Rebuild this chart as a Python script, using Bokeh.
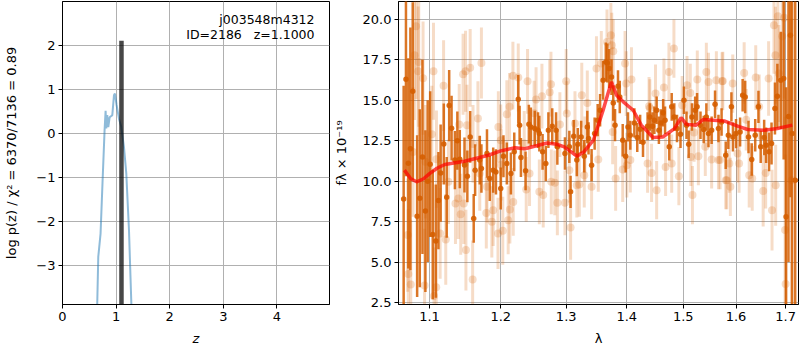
import numpy as np
from bokeh.plotting import figure
from bokeh.layouts import row
from bokeh.models import FixedTicker, PrintfTickFormatter, Label, Range1d
from bokeh.embed import file_html
from bokeh.resources import INLINE

# ---------------- left panel: log p(z) ----------------
pz_z = [0.640, 0.648, 0.667, 0.710, 0.748, 0.785, 0.804, 0.816, 0.835, 0.854, 0.879,
        0.910, 0.929, 0.960, 0.978, 1.009, 1.053, 1.097, 1.146, 1.190, 1.240, 1.284, 1.295]
pz_logp = [-4.5, -3.87, -2.81, -2.28, -1.07, 0.07, 0.51, 0.11, 0.41, 0.14, 0.36,
           0.39, 0.41, 0.86, 0.90, 0.64, 0.33, 0.14, -0.31, -0.92, -2.20, -3.87, -4.5]
z_best = [1.1]
z_best_top = [2.1]
z_ticks = [0, 1, 2, 3, 4]
logp_ticks = [-3, -2, -1, 0, 1, 2]
root_name = "j003548m4312"
id_text = "ID=2186\u00a0\u00a0\u00a0z=1.1000"

# ---------------- right panel: spectrum ----------------
model_lam = [1.0667, 1.0750, 1.0827, 1.0920, 1.1000, 1.1100, 1.1207, 1.1480, 1.1820, 1.2000,
             1.2210, 1.2360, 1.2550, 1.2700, 1.2850, 1.2970, 1.3100, 1.3170, 1.3280, 1.3440,
             1.3600, 1.3680, 1.3740, 1.3825, 1.3940, 1.4110, 1.4250, 1.4456, 1.4630, 1.4840,
             1.4960, 1.5055, 1.5240, 1.5370, 1.5770, 1.6030, 1.6230, 1.6560, 1.6830, 1.7140]
model_flux = [10.68, 10.15, 9.96, 10.15, 10.47, 10.80, 11.03, 11.23, 11.60, 11.87,
              12.06, 12.00, 12.20, 12.36, 12.28, 12.12, 11.75, 11.54, 11.80, 12.53,
              14.38, 15.40, 16.13, 15.31, 14.90, 14.38, 13.46, 12.70, 12.73, 13.25,
              13.93, 13.52, 13.46, 13.81, 13.72, 13.40, 13.19, 13.15, 13.25, 13.46]

dark_lam = [1.0657, 1.0687, 1.0718, 1.0745, 1.0776, 1.0834, 1.0869, 1.0905, 1.0944, 1.0975,
            1.1008, 1.1043, 1.1084, 1.1120, 1.1150, 1.1193, 1.1233, 1.1267, 1.1300, 1.1346,
            1.1380, 1.1414, 1.1480, 1.1520, 1.1560, 1.1610, 1.1630, 1.1696,
            1.172, 1.180, 1.184, 1.189, 1.193, 1.200, 1.204, 1.209, 1.215, 1.220,
            1.226, 1.228, 1.230, 1.237, 1.242, 1.245, 1.251, 1.256, 1.258, 1.263,
            1.268, 1.272, 1.278, 1.284, 1.286,
            1.298, 1.305, 1.307, 1.312, 1.317, 1.3185, 1.324, 1.329, 1.334, 1.336,
            1.341, 1.346, 1.351, 1.355, 1.360, 1.3645, 1.367, 1.370, 1.374, 1.377,
            1.380, 1.385, 1.388, 1.393, 1.398, 1.402, 1.406, 1.413, 1.418, 1.423, 1.428,
            1.436, 1.440, 1.4445, 1.448, 1.452, 1.456, 1.4596, 1.4636, 1.467, 1.4746,
            1.479, 1.4836, 1.4886, 1.4950, 1.5013, 1.506, 1.510, 1.516, 1.522, 1.5256,
            1.532, 1.538, 1.543, 1.547, 1.553, 1.5595, 1.566, 1.572, 1.580, 1.585,
            1.591, 1.594, 1.600, 1.608, 1.613, 1.618, 1.6246, 1.631, 1.638, 1.6445,
            1.649, 1.656, 1.660, 1.666, 1.671, 1.678, 1.683, 1.690, 1.696, 1.701,
            1.706, 1.710, 1.7135, 1.720]
dark_flux = [8.90, 16.30, 11.10, 12.00, 15.55, 7.84, 8.95, 11.50, 8.15, 10.00,
             11.05, 6.70, 6.30, 8.80, 10.50, 12.30, 9.00, 14.67, 13.27, 11.30,
             12.50, 11.36, 11.00, 10.30, 12.73, 7.70, 10.68, 11.30,
             10.78, 11.71, 10.17, 10.68, 10.57, 9.55, 11.54, 11.09, 10.47, 11.81,
             15.06, 13.46, 11.46, 10.64, 13.52, 13.35, 13.25, 13.15, 12.94, 11.81,
             11.09, 13.15, 13.40, 13.15, 12.12,
             11.71, 12.12, 9.34, 12.78, 11.30, 12.28, 12.73, 11.54, 13.35, 12.64,
             10.99, 12.94, 13.77, 14.38, 16.23, 17.36, 17.30, 16.96, 16.43, 14.83,
             13.46, 15.86, 15.20, 12.53, 11.54, 13.35, 12.84, 13.60, 12.70, 13.20, 12.40,
             13.40, 13.97, 13.40, 13.77, 14.38, 13.15, 13.60, 14.22, 13.77, 12.12,
             14.59, 13.97, 13.25, 12.90, 15.00, 13.46, 12.28, 13.97, 14.38, 14.59,
             13.46, 13.19, 13.97, 12.94, 13.15, 14.75, 13.25, 13.66, 11.60, 12.84,
             14.59, 12.73, 12.94, 13.04, 15.31, 15.20, 12.73, 11.34, 12.84, 14.59,
             12.12, 12.70, 12.22, 11.81, 12.33, 14.49, 15.25, 16.23, 16.34, 7.80,
             14.00, 19.01, 12.94, 10.06]
dark_err = [7.0, 6.0, 6.5, 7.5, 5.5, 5.0, 5.5, 6.0, 5.0, 5.0,
            4.5, 4.0, 3.5, 3.0, 3.0, 2.5, 2.5, 2.2, 2.0, 1.8,
            1.8, 1.8, 1.7, 1.6, 1.6, 1.5, 1.6, 1.5,
            1.5, 1.5, 1.4, 1.4, 1.4, 1.3, 1.3, 1.3, 1.3, 1.2,
            1.5, 1.2, 1.2, 1.2, 1.2, 1.2, 1.1, 1.1, 1.1, 1.1,
            1.1, 1.1, 1.1, 1.1, 1.1,
            1.0, 1.0, 1.0, 1.0, 1.0, 1.0, 1.0, 1.0, 1.0, 1.0,
            1.0, 1.0, 1.0, 1.0, 1.2, 1.2, 1.2, 1.2, 1.1, 1.1,
            1.0, 1.0, 1.0, 1.0, 1.0, 0.9, 0.9, 0.9, 0.9, 0.9, 0.9,
            0.85, 0.85, 0.85, 0.85, 0.85, 0.85, 0.85, 0.85, 0.85, 0.85,
            0.85, 0.85, 0.85, 0.85, 0.85, 0.85, 0.85, 0.85, 0.85, 0.85,
            0.85, 0.85, 0.85, 0.85, 0.85, 0.85, 0.85, 0.85, 0.85, 0.85,
            0.9, 0.9, 0.9, 0.9, 1.0, 1.0, 1.0, 1.0, 1.0, 1.0,
            1.0, 1.1, 1.1, 1.2, 1.3, 1.6, 2.0, 3.0, 5.0, 8.0,
            9.0, 10.0, 12.0, 12.0]

light_lam = [1.0710, 1.0718, 1.0750, 1.0780, 1.0800, 1.0820, 1.0847, 1.0855, 1.0913, 1.0933,
             1.0944, 1.1030, 1.1053, 1.1060, 1.1090, 1.1093, 1.1143, 1.1190, 1.1220, 1.1257,
             1.1354, 1.1393, 1.1406, 1.1427, 1.1460, 1.1470, 1.1495, 1.1500, 1.1515, 1.1560,
             1.1595, 1.1600, 1.1670, 1.1696,
             1.172, 1.179, 1.180, 1.187, 1.189, 1.196, 1.1965, 1.200, 1.2005, 1.203,
             1.209, 1.211, 1.213, 1.2135, 1.218, 1.2185, 1.226, 1.235, 1.238, 1.240,
             1.243, 1.250, 1.253, 1.258, 1.262, 1.264, 1.274, 1.276, 1.2765, 1.282,
             1.286, 1.290,
             1.298, 1.300, 1.301, 1.305, 1.307, 1.314, 1.317, 1.321, 1.325, 1.329,
             1.330, 1.334, 1.341, 1.349, 1.352, 1.357, 1.3665, 1.373, 1.3745, 1.376,
             1.377, 1.381, 1.393, 1.397, 1.399, 1.400, 1.406, 1.408,
             1.436, 1.4386, 1.440, 1.443, 1.450, 1.452, 1.465, 1.468, 1.474, 1.479,
             1.483, 1.492, 1.498, 1.507, 1.513, 1.514, 1.517, 1.520, 1.526, 1.528,
             1.541, 1.543, 1.547, 1.553, 1.562, 1.566,
             1.569, 1.573, 1.5744, 1.580, 1.582, 1.587, 1.589, 1.5936, 1.603, 1.606,
             1.616, 1.620, 1.626, 1.632, 1.639, 1.646, 1.654, 1.659, 1.665, 1.672,
             1.676, 1.679, 1.6795, 1.684, 1.686, 1.693, 1.697, 1.699, 1.700, 1.7125]
light_flux = [6.67, 4.26, 3.62, 11.80, 17.78, 19.57, 16.79, 17.36, 16.36, 3.56,
              11.20, 12.90, 16.79, 2.90, 3.44, 11.36, 6.77, 15.90, 6.40, 9.96,
              8.62, 8.93, 13.50, 7.96, 16.60, 8.62, 16.79, 5.74, 13.46, 17.00,
              3.93, 12.30, 13.87, 10.47,
              17.30, 8.04, 9.65, 7.49, 8.20, 6.77, 13.35, 12.53, 11.00, 6.93,
              14.14, 7.59, 14.59, 8.25, 16.52, 8.72, 16.40, 12.33, 9.49, 16.17,
              10.47, 14.20, 15.04, 9.34, 15.25, 9.14, 15.49, 15.99, 9.96, 9.90,
              8.66, 13.50,
              8.66, 16.17, 14.18, 10.68, 7.14, 13.56, 9.75, 9.80, 15.31, 10.37,
              12.00, 14.83, 9.65, 16.96, 11.34, 17.27, 18.60, 19.01, 18.40, 13.04,
              18.02, 10.17, 10.72, 17.27, 16.03, 10.99, 11.30, 16.28,
              11.09, 14.63, 14.50, 10.51, 15.41, 9.44, 15.78, 10.88, 16.75, 11.09,
              18.19, 10.31, 14.69, 15.93, 15.45, 11.50, 9.14, 13.00, 16.28, 11.54,
              12.12, 16.75, 16.13, 11.34, 16.23, 11.30,
              11.30, 16.17, 16.19, 10.06, 10.06, 11.09, 9.65, 16.03, 11.71, 11.09,
              16.69, 13.80, 10.37, 10.17, 16.40, 14.59, 9.40, 10.51, 16.34, 8.21,
              19.63, 17.78, 9.75, 20.19, 16.65, 18.95, 20.10, 6.98, 3.64, 10.06]
light_err = [3.5, 4.0, 4.0, 4.0, 4.0, 4.5, 4.0, 4.0, 3.5, 3.5,
             3.5, 3.0, 3.0, 3.0, 3.0, 3.0, 2.8, 2.8, 2.8, 2.6,
             2.5, 2.5, 2.5, 2.5, 2.5, 2.5, 2.5, 2.5, 2.5, 2.4,
             2.4, 2.4, 2.3, 2.3,
             2.2, 2.2, 2.2, 2.2, 2.2, 2.2, 2.2, 2.2, 2.2, 2.1,
             2.1, 2.1, 2.1, 2.1, 2.1, 2.1, 2.1, 2.0, 2.0, 2.0,
             2.0, 2.0, 2.0, 2.0, 2.0, 2.0, 2.0, 2.0, 2.0, 2.0,
             2.0, 2.0,
             2.0, 2.0, 2.0, 2.0, 2.0, 2.0, 2.0, 2.0, 2.0, 2.0,
             2.0, 2.0, 2.0, 2.0, 2.0, 2.0, 2.0, 2.0, 2.0, 2.0,
             2.0, 2.0, 2.0, 2.0, 2.0, 2.0, 2.0, 2.0,
             1.8, 1.8, 1.8, 1.8, 1.8, 1.8, 1.8, 1.8, 1.8, 1.8,
             1.8, 1.8, 1.8, 1.8, 1.8, 1.8, 1.8, 1.8, 1.8, 1.8,
             1.8, 1.8, 1.8, 1.8, 1.8, 1.8,
             1.8, 1.8, 1.8, 1.8, 1.8, 1.8, 1.8, 1.8, 1.8, 1.8,
             1.9, 1.9, 2.0, 2.0, 2.0, 2.0, 2.2, 2.2, 2.3, 2.5,
             3.0, 3.0, 2.5, 4.0, 3.0, 4.0, 5.0, 7.0, 8.0, 10.0]
lam_ticks = [1.1, 1.2, 1.3, 1.4, 1.5, 1.6, 1.7]
flux_ticks = [2.5, 5.0, 7.5, 10.0, 12.5, 15.0, 17.5, 20.0]
timestamp = "Thu Apr 23 11:55:23 2020"

G141 = "#d55e00"
FONT = "DejaVu Sans"


def style(p):
    p.outline_line_color = "black"
    p.outline_line_width = 1
    p.background_fill_color = "white"
    p.border_fill_color = "white"
    for g in (p.xgrid, p.ygrid):
        g.grid_line_color = "#b0b0b0"
        g.grid_line_width = 1
    for ax in (p.xaxis, p.yaxis):
        ax.axis_line_color = "black"
        ax.major_tick_out = 4
        ax.major_tick_in = 0
        ax.major_tick_line_color = "black"
        ax.minor_tick_line_color = None
        ax.major_label_text_font = FONT
        ax.major_label_text_font_size = "13px"
        ax.major_label_text_color = "black"
        ax.major_label_standoff = 3
        ax.axis_label_text_font = FONT
        ax.axis_label_text_font_size = "13px"
        ax.axis_label_text_font_style = "normal"
        ax.axis_label_text_color = "black"


# ---------- left figure ----------
p1 = figure(width=330, height=350, x_range=Range1d(0, 4.98), y_range=Range1d(-3.89, 2.99),
            output_backend="svg", toolbar_location=None,
            min_border_left=62, min_border_right=1, min_border_top=1, min_border_bottom=46)
style(p1)
p1.xaxis.ticker = FixedTicker(ticks=z_ticks)
p1.yaxis.ticker = FixedTicker(ticks=logp_ticks)
p1.yaxis.major_label_overrides = {t: (str(t).replace("-", "\u2212")) for t in logp_ticks}
p1.xaxis.axis_label = "z"
p1.xaxis.axis_label_text_font_style = "italic"
p1.xaxis.axis_label_standoff = 7
p1.yaxis.axis_label = "log p(z) / \u03c7\u00b2 = 6370/7136 = 0.89"
p1.yaxis.axis_label_standoff = 14

p1.line(pz_z, pz_logp, line_color="#1f77b4", line_alpha=0.5, line_width=2)
p1.segment(x0=z_best, y0=[-3.89], x1=z_best, y1=z_best_top, line_color="black",
           line_alpha=0.72, line_width=4.5)
p1.add_layout(Label(x=4.7, y=2.57, text=root_name, text_align="right", text_baseline="middle",
                    text_font=FONT, text_font_size="12.5px", text_color="black"))
p1.add_layout(Label(x=4.7, y=2.23, text=id_text, text_align="right", text_baseline="middle",
                    text_font=FONT, text_font_size="12.5px", text_color="black"))

# ---------- right figure ----------
p2 = figure(width=470, height=350, x_axis_type="log",
            x_range=Range1d(1.059, 1.727), y_range=Range1d(2.38, 21.1),
            output_backend="svg", toolbar_location=None,
            min_border_left=67, min_border_right=2, min_border_top=1, min_border_bottom=46)
style(p2)
p2.xaxis.ticker = FixedTicker(ticks=lam_ticks, minor_ticks=[])
p2.xaxis.formatter = PrintfTickFormatter(format="%.1f")
p2.yaxis.ticker = FixedTicker(ticks=flux_ticks)
p2.yaxis.formatter = PrintfTickFormatter(format="%.1f")
p2.xaxis.axis_label = "\u03bb"
p2.xaxis.axis_label_standoff = 7
p2.yaxis.axis_label = "f\u03bb \u00d7 10\u207b\u00b9\u2079"
p2.yaxis.axis_label_standoff = 11

ll = np.array(light_lam)
lf = np.array(light_flux)
le = np.array(light_err)
p2.segment(x0=ll, y0=lf - le, x1=ll, y1=lf + le, line_color=G141, line_alpha=0.22, line_width=3)
p2.scatter(ll, lf, size=8, fill_color=G141, fill_alpha=0.22, line_color=None)

dl = np.array(dark_lam)
df = np.array(dark_flux)
de = np.array(dark_err)
p2.segment(x0=dl, y0=df - de, x1=dl, y1=df + de, line_color=G141, line_alpha=0.85, line_width=2.5)
p2.scatter(dl, df, size=5.5, fill_color=G141, fill_alpha=0.9, line_color=None)

p2.line(model_lam, model_flux, line_color="red", line_alpha=0.7, line_width=3.5)

p2.add_layout(Label(x=391, y=-36, x_units="screen", y_units="screen", text=timestamp,
                    text_align="right", text_baseline="middle", text_font=FONT,
                    text_font_size="7px", text_color="black"))

layout = row(p1, p2)
open("out.html", "w").write(file_html(layout, INLINE))
